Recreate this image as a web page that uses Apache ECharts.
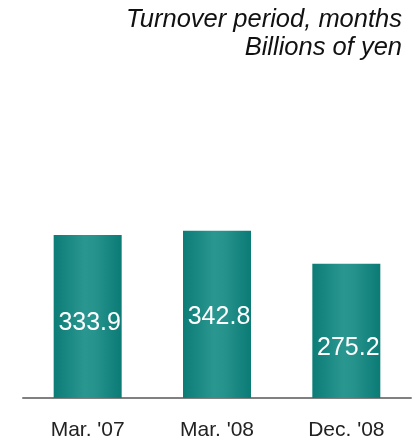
<!DOCTYPE html>
<html>
<head>
<meta charset="utf-8">
<script src="https://cdn.jsdelivr.net/npm/echarts@6/dist/echarts.min.js"></script>
<style>
    html, body { margin: 0; padding: 0; background: #fff; }
</style>
</head>
<body>
<div id="turnover_chart" style="width:416px;height:441px;"></div>
<script type="text/javascript">
    // periods and values (billions of yen)
    var periods = ["Mar. '07", "Mar. '08", "Dec. '08"];
    var amounts = [333.9, 342.8, 275.2];

    // label nudges per bar (px), just for look
    var labelShift = [7, 3, 17];

    function initTurnoverChart(){
        var chart = echarts.init(document.getElementById('turnover_chart'));

        var teal = new echarts.graphic.LinearGradient(0, 0, 1, 0, [
            {offset: 0, color: '#0c7c76'},
            {offset: 0.45, color: '#2a9690'},
            {offset: 0.6, color: '#27938d'},
            {offset: 1, color: '#0b7b75'}
        ]);

        var barData = [];
        for(var i = 0; i < amounts.length; i++){
            barData.push({
                value: amounts[i],
                label: {offset: [2, labelShift[i]]}
            });
        }

        var noteFont = 'italic 25.5px "Liberation Sans"';

        var options = {
            animation: false,
            //右上角的说明文字
            graphic: [{
                type: 'text',
                right: 14,
                top: 7,
                style: {text: 'Turnover period, months', font: noteFont, fill: '#111'}
            }, {
                type: 'text',
                right: 14,
                top: 35,
                style: {text: 'Billions of yen', font: noteFont, fill: '#111'}
            }],
            grid: {
                left: 23,
                right: 5,
                top: 154,
                bottom: 43
            },
            xAxis: {
                type: 'category',
                data: periods,
                axisLine: {lineStyle: {color: '#808080', width: 2}},
                axisTick: {show: false},
                axisLabel: {
                    margin: 22,
                    fontFamily: 'Liberation Sans',
                    fontSize: 21,
                    color: '#222'
                }
            },
            yAxis: {
                type: 'value',
                min: 0,
                max: 500,
                show: false,
                splitLine: {show: false}
            },
            series: [{
                type: 'bar',
                data: barData,
                barWidth: 68,
                itemStyle: {color: teal},
                label: {
                    show: true,
                    position: 'inside',
                    fontFamily: 'Liberation Sans',
                    fontSize: 25,
                    color: '#fff'
                }
            }]
        };
        chart.setOption(options);
    }

    initTurnoverChart();
</script>
</body>
</html>
